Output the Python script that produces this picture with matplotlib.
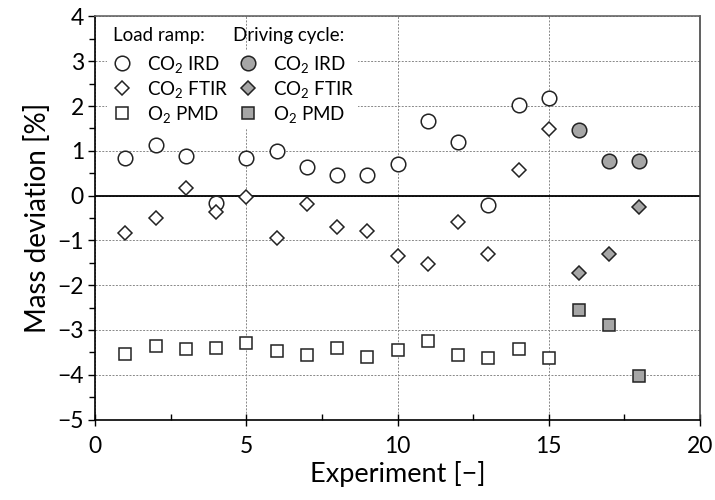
import numpy as np
import matplotlib
matplotlib.use("Agg")
import matplotlib.pyplot as plt
from matplotlib.lines import Line2D

plt.rcParams["font.family"] = ["Lato", "DejaVu Sans"]
plt.rcParams["mathtext.fontset"] = "custom"
plt.rcParams["mathtext.rm"] = "Lato"
plt.rcParams["mathtext.it"] = "Lato:italic"
plt.rcParams["axes.unicode_minus"] = True

# load ramp, experiments 1..15
exp_ramp  = np.arange(1, 16)
ird_ramp  = [0.83, 1.13, 0.88, -0.17, 0.83, 1.00, 0.64, 0.47, 0.47, 0.70,
             1.66, 1.19, -0.21, 2.03, 2.17]
ftir_ramp = [-0.83, -0.51, 0.17, -0.36, -0.03, -0.94, -0.19, -0.69, -0.79, -1.35,
             -1.53, -0.58, -1.31, 0.57, 1.48]
pmd_ramp  = [-3.54, -3.36, -3.43, -3.41, -3.29, -3.47, -3.55, -3.41, -3.60, -3.45,
             -3.24, -3.56, -3.62, -3.43, -3.62]

# driving cycle, experiments 16..18
exp_drive  = np.arange(16, 19)
ird_drive  = [1.46, 0.78, 0.78]
ftir_drive = [-1.72, -1.30, -0.25]
pmd_drive  = [-2.55, -2.89, -4.03]

GRAY = "#a6a6a6"
EDGE = "#222222"

fig = plt.figure(figsize=(7.15, 5.0), dpi=100)
ax = fig.add_axes([0.133, 0.161, 0.846, 0.806])

ax.axhline(0, color="black", lw=1.3, zorder=2)
ax.grid(True, which="major", ls=(0, (2, 1.5)), color="#888888", lw=0.7, zorder=1)

mk = dict(ls="none", mec=EDGE, mew=1.1, zorder=3)
ax.plot(exp_ramp, ird_ramp, marker="o", ms=10.5, mfc="white", **mk)
ax.plot(exp_ramp, ftir_ramp, marker="D", ms=7, mfc="white", **mk)
ax.plot(exp_ramp, pmd_ramp, marker="s", ms=9, mfc="white", **mk)
ax.plot(exp_drive, ird_drive, marker="o", ms=10.5, mfc=GRAY, **mk)
ax.plot(exp_drive, ftir_drive, marker="D", ms=7, mfc=GRAY, **mk)
ax.plot(exp_drive, pmd_drive, marker="s", ms=9, mfc=GRAY, **mk)

ax.set_xlim(0, 20)
ax.set_ylim(-5, 4)
ax.set_xticks([0, 5, 10, 15, 20])
ax.set_xticks([2.5, 7.5, 12.5, 17.5], minor=True)
ax.set_yticks(range(-5, 5))
ax.set_yticks(np.arange(-4.5, 4, 1.0), minor=True)
ax.tick_params(axis="x", which="major", direction="inout", length=8, width=1, labelsize=16.5, pad=8)
ax.tick_params(axis="x", which="minor", direction="in", length=4, width=1)
ax.tick_params(axis="y", which="major", direction="out", length=5, width=1, labelsize=16.5, pad=3)
ax.tick_params(axis="y", which="minor", direction="out", length=4, width=1)
for s in ax.spines.values():
    s.set_linewidth(1.2)
ax.spines["top"].set_color("#666666")
ax.spines["right"].set_color("#444444")

ax.set_xlabel("Experiment [\u2212]", fontsize=19.5, labelpad=3)
ax.set_ylabel("Mass deviation [%]", fontsize=20, labelpad=5)

# legend: two columns (load ramp / driving cycle)
def h(marker, fc, ms):
    return Line2D([], [], ls="none", marker=marker, ms=ms, mfc=fc, mec=EDGE, mew=1.1)

handles = [h("o", "white", 10.5), h("D", "white", 7), h("s", "white", 9),
           h("o", GRAY, 10.5), h("D", GRAY, 7), h("s", GRAY, 9)]
labels = ["CO$_2$ IRD", "CO$_2$ FTIR", "O$_2$ PMD"] * 2
leg = ax.legend(handles, labels, ncol=2, loc="upper left", bbox_to_anchor=(0.005, 0.94),
                fontsize=13.5, frameon=True, facecolor="white", edgecolor="none",
                framealpha=1, handlelength=1.1, handletextpad=0.8, columnspacing=0.5,
                labelspacing=0.22, borderpad=0.2, fancybox=False)
leg.set_zorder(4)
ax.text(0.03, 0.954, "Load ramp:", transform=ax.transAxes, fontsize=13.5,
        va="center", ha="left", zorder=5)
ax.text(0.228, 0.954, "Driving cycle:", transform=ax.transAxes, fontsize=13.5,
        va="center", ha="left", zorder=5)

fig.savefig("out.png", dpi=100)
